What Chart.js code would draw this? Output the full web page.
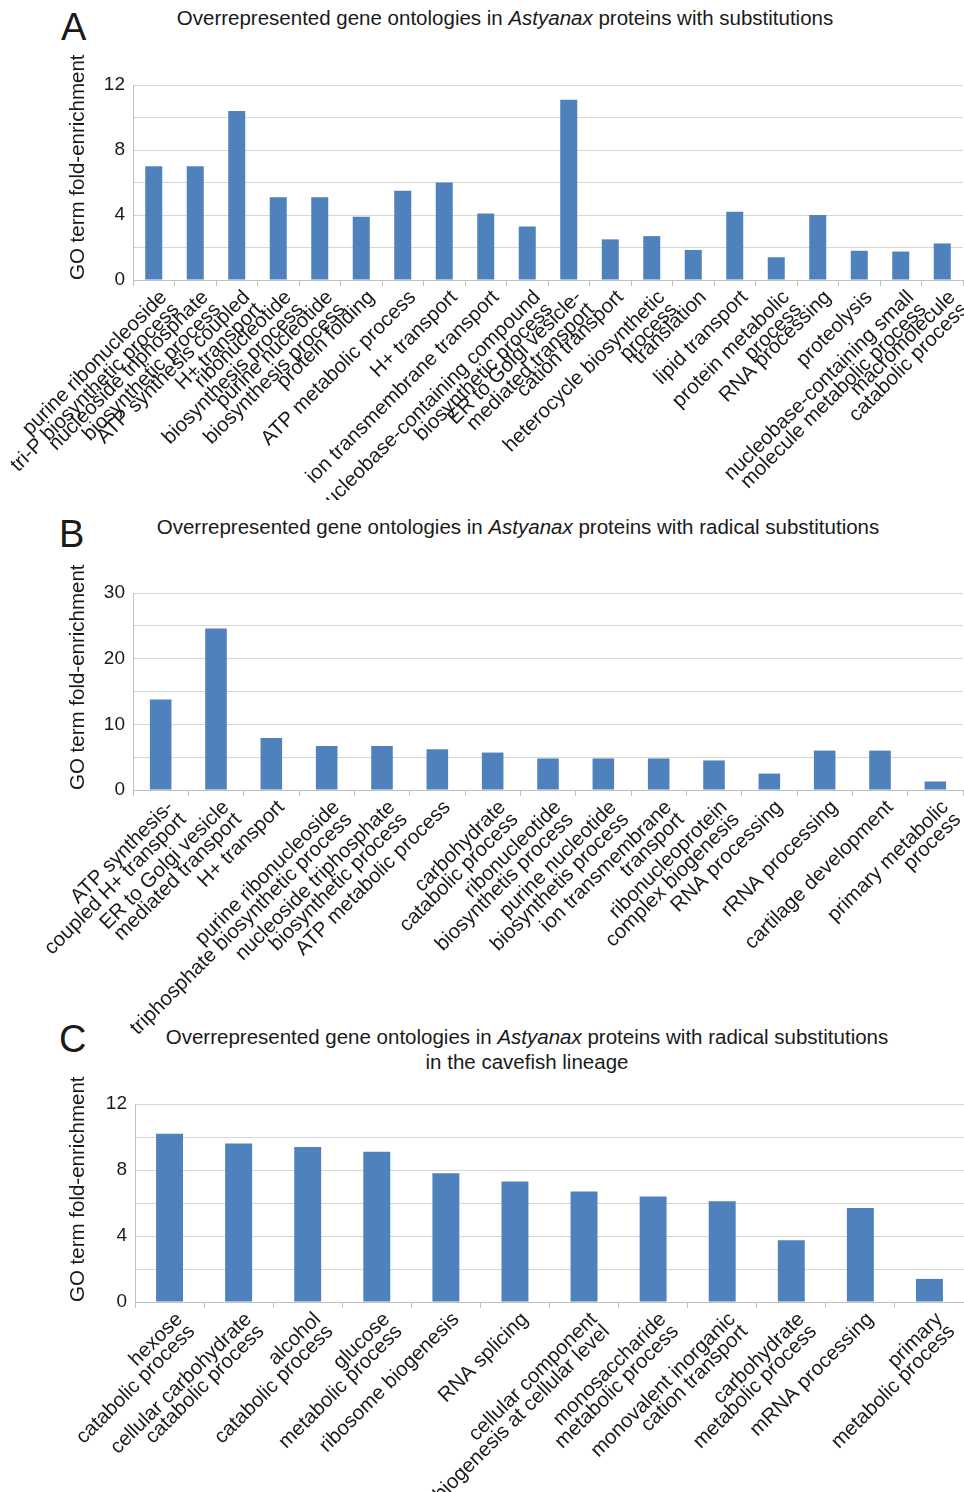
<!DOCTYPE html>
<html>
<head>
<meta charset="utf-8">
<script src="https://cdn.jsdelivr.net/npm/chart.js@4.4.1/dist/chart.umd.min.js"></script>
<style>
  body { margin:0; background:#fff; width:964px; height:1492px; position:relative; overflow:hidden;
         font-family:"Liberation Sans", Arial, sans-serif; color:#1a1a1a; }
  canvas { position:absolute; left:0; }
  .title { position:absolute; font-size:20.5px; line-height:24px; white-space:nowrap; transform:translateX(-50%); }
  .letter { position:absolute; font-size:38px; line-height:38px; }
</style>
</head>
<body>
<div class="letter" style="left:61px;top:8px">A</div>
<div class="title" style="left:505px;top:6px">Overrepresented gene ontologies in <i>Astyanax</i> proteins with substitutions</div>
<div class="letter" style="left:59px;top:515px">B</div>
<div class="title" style="left:518px;top:515px">Overrepresented gene ontologies in <i>Astyanax</i> proteins with radical substitutions</div>
<div class="letter" style="left:59px;top:1020px">C</div>
<div class="title" style="left:527px;top:1025px">Overrepresented gene ontologies in <i>Astyanax</i> proteins with radical substitutions</div>
<div class="title" style="left:527px;top:1050px">in the cavefish lineage</div>

<canvas id="chartA" width="964" height="500" style="top:0px"></canvas>
<canvas id="chartB" width="964" height="540" style="top:500px"></canvas>
<canvas id="chartC" width="964" height="492" style="top:1000px"></canvas>

<script>
// panel A - all substitutions
const labelsA = [
  ["purine ribonucleoside", "tri-P biosynthetic process"],
  ["nucleoside triphosphate", "biosynthetic process"],
  ["ATP synthesis coupled", "H+ transport"],
  ["ribonucleotide", "biosynthesis process"],
  ["purine nucleotide", "biosynthesis process"],
  "protein folding",
  "ATP metabolic process",
  "H+ transport",
  "ion transmembrane transport",
  ["nucleobase-containing compound", "biosynthetic process"],
  ["ER to Golgi vesicle-", "mediated transport"],
  "cation transport",
  ["heterocycle biosynthetic", "process"],
  "translation",
  "lipid transport",
  ["protein metabolic", "process"],
  "RNA processing",
  "proteolysis",
  ["nucleobase-containing small", "molecule metabolic process"],
  ["macromolecule", "catabolic process"]
];
const valuesA = [7.0, 7.0, 10.4, 5.1, 5.1, 3.9, 5.5, 6.0, 4.1, 3.3, 11.1, 2.5, 2.7, 1.85, 4.2, 1.4, 4.0, 1.8, 1.75, 2.25];

// panel B - radical substitutions
const labelsB = [
  ["ATP synthesis-", "coupled H+ transport"],
  ["ER to Golgi vesicle", "mediated transport"],
  "H+ transport",
  ["purine ribonucleoside", "triphosphate biosynthetic process"],
  ["nucleoside triphosphate", "biosynthetic process"],
  "ATP metabolic process",
  ["carbohydrate", "catabolic process"],
  ["ribonucleotide", "biosynthetis process"],
  ["purine nucleotide", "biosynthetis process"],
  ["ion transmembrane", "transport"],
  ["ribonucleoprotein", "complex biogenesis"],
  "RNA processing",
  "rRNA processing",
  "cartilage development",
  ["primary metabolic", "process"]
];
const valuesB = [13.8, 24.6, 7.9, 6.7, 6.7, 6.2, 5.7, 4.8, 4.8, 4.8, 4.5, 2.5, 6.0, 6.0, 1.3];

// panel C - radical substitutions, cavefish lineage
const labelsC = [
  ["hexose", "catabolic process"],
  ["cellular carbohydrate", "catabolic process"],
  ["alcohol", "catabolic process"],
  ["glucose", "metabolic process"],
  "ribosome biogenesis",
  "RNA splicing",
  ["cellular component", "biogenesis at cellular level"],
  ["monosaccharide", "metabolic process"],
  ["monovalent inorganic", "cation transport"],
  ["carbohydrate", "metabolic process"],
  "mRNA processing",
  ["primary", "metabolic process"]
];
const valuesC = [10.2, 9.6, 9.4, 9.1, 7.8, 7.3, 6.7, 6.4, 6.1, 3.75, 5.7, 1.4];

const barColor = '#4f81bd';
const textColor = '#1a1a1a';
const fontFamily = '"Liberation Sans", Arial, sans-serif';

function makeChart(id, labels, values, o) {
  new Chart(document.getElementById(id), {
    type: 'bar',
    data: {
      labels: labels,
      datasets: [{ data: values, backgroundColor: barColor, barPercentage: o.barPct, categoryPercentage: 1 }]
    },
    options: {
      responsive: false,
      animation: false,
      layout: { padding: { top: o.top, right: o.right, left: 0, bottom: 0 } },
      plugins: { legend: { display: false }, tooltip: { enabled: false } },
      scales: {
        x: {
          grid: { offset: true, drawOnChartArea: false, color: '#c0c0c0', tickLength: 6 },
          border: { color: '#c0c0c0' },
          ticks: {
            autoSkip: false, minRotation: 45, maxRotation: 45, padding: 2, labelOffset: 10,
            color: textColor, font: { family: fontFamily, size: 20.5, lineHeight: 0.85 }
          },
          afterFit: s => { s.height = o.xHeight; s.paddingLeft = 0; s.paddingRight = 0; }
        },
        y: {
          min: 0, max: o.max,
          grid: { color: '#d6d6d6', drawTicks: false },
          border: { color: '#c0c0c0' },
          ticks: {
            stepSize: o.step, padding: 8, color: textColor,
            font: { family: fontFamily, size: 19 },
            callback: v => (v % o.labelStep === 0 ? v : '')
          },
          title: {
            display: true, text: 'GO term fold-enrichment', align: 'start', color: textColor,
            font: { family: fontFamily, size: 20.5 }, padding: { top: 66, bottom: 0 }
          },
          afterFit: s => { s.width = o.yWidth; }
        }
      }
    }
  });
}

makeChart('chartA', labelsA, valuesA, { top: 85, right: 1, xHeight: 220, yWidth: 133, max: 12, step: 2, labelStep: 4, barPct: 0.41 });
makeChart('chartB', labelsB, valuesB, { top: 93, right: 1, xHeight: 250, yWidth: 133, max: 30, step: 5, labelStep: 10, barPct: 0.39 });
makeChart('chartC', labelsC, valuesC, { top: 104, right: 0, xHeight: 190, yWidth: 135, max: 12, step: 2, labelStep: 4, barPct: 0.39 });
</script>
</body>
</html>
